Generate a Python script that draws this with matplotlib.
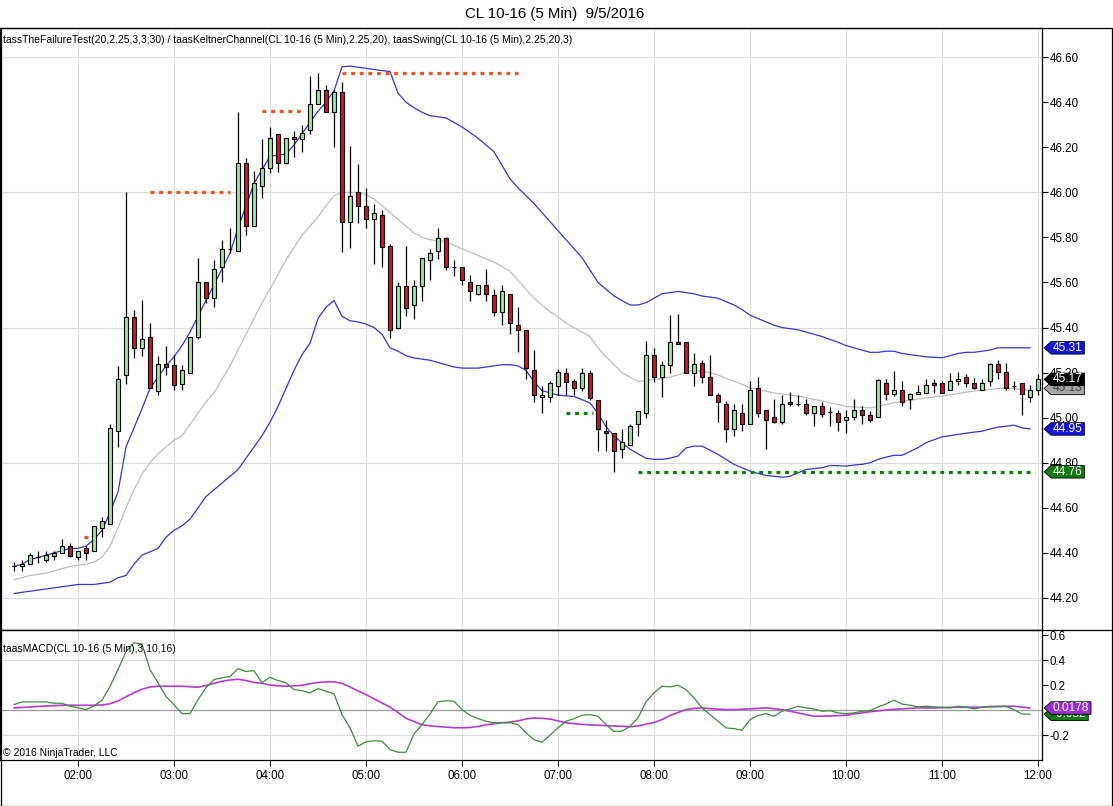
import numpy as np
import matplotlib
matplotlib.use("Agg")
import matplotlib.pyplot as plt
from matplotlib.path import Path
from matplotlib.patches import Rectangle
from matplotlib.lines import Line2D

plt.rcParams['font.family'] = ['Liberation Sans', 'DejaVu Sans']

# 5 min bars, 01:20 .. 12:00
opens = [44.34, 44.34, 44.35, 44.38, 44.37, 44.385, 44.40, 44.43, 44.38, 44.42,
         44.41, 44.51, 44.53, 44.94, 45.19, 45.445, 45.31, 45.36, 45.12, 45.24,
         45.235, 45.15, 45.20, 45.36, 45.60, 45.53, 45.67, 45.75, 45.74, 46.13,
         45.85, 46.03, 46.11, 46.26, 46.13, 46.246, 46.236, 46.276, 46.393, 46.456,
         46.356, 46.445, 45.868, 46.00, 45.94, 45.88, 45.90, 45.76, 45.40, 45.584,
         45.50, 45.584, 45.70, 45.74, 45.797, 45.67, 45.67, 45.60, 45.55, 45.59,
         45.544, 45.47, 45.55, 45.41, 45.39, 45.21, 45.09, 45.09, 45.14, 45.20,
         45.163, 45.13, 45.20, 45.08, 44.943, 44.93, 44.863, 44.88, 44.97, 45.02,
         45.28, 45.18, 45.232, 45.338, 45.338, 45.20, 45.244, 45.18, 45.10, 45.06,
         44.95, 45.02, 44.973, 45.133, 45.032, 45.004, 44.982, 45.07, 45.062, 45.062,
         45.022, 45.05, 45.025, 45.022, 44.99, 45.004, 45.032, 45.014, 45.004, 45.155,
         45.103, 45.122, 45.084, 45.103, 45.11, 45.155, 45.155, 45.125, 45.162, 45.18,
         45.155, 45.122, 45.162, 45.236, 45.204, 45.14, 45.155, 45.092, 45.122]
highs = [44.36, 44.37, 44.40, 44.41, 44.41, 44.41, 44.46, 44.445, 44.41, 44.43,
         44.52, 44.56, 44.97, 45.23, 46.00, 45.48, 45.52, 45.42, 45.275, 45.32,
         45.28, 45.235, 45.36, 45.71, 45.60, 45.70, 45.79, 45.84, 46.356, 46.15,
         46.095, 46.236, 46.29, 46.26, 46.24, 46.27, 46.30, 46.515, 46.528, 46.474,
         46.456, 46.49, 46.205, 46.126, 46.02, 45.95, 45.92, 45.77, 45.60, 45.76,
         45.613, 45.71, 45.75, 45.843, 45.80, 45.70, 45.67, 45.633, 45.59, 45.66,
         45.57, 45.59, 45.55, 45.49, 45.39, 45.30, 45.14, 45.163, 45.216, 45.22,
         45.17, 45.22, 45.21, 45.08, 44.99, 44.93, 44.95, 44.97, 45.03, 45.34,
         45.31, 45.25, 45.454, 45.46, 45.338, 45.285, 45.255, 45.278, 45.11, 45.074,
         45.06, 45.06, 45.165, 45.18, 45.032, 45.085, 45.10, 45.113, 45.10, 45.084,
         45.05, 45.07, 45.047, 45.034, 45.032, 45.084, 45.05, 45.03, 45.173, 45.173,
         45.207, 45.162, 45.11, 45.143, 45.173, 45.173, 45.162, 45.20, 45.204, 45.196,
         45.177, 45.173, 45.244, 45.254, 45.244, 45.162, 45.155, 45.143, 45.195]
lows = [44.32, 44.32, 44.35, 44.355, 44.36, 44.37, 44.40, 44.38, 44.37, 44.37,
        44.41, 44.47, 44.53, 44.87, 45.15, 45.265, 45.275, 45.13, 45.10, 45.19,
        45.125, 45.125, 45.20, 45.35, 45.51, 45.49, 45.60, 45.73, 45.74, 45.81,
        45.85, 45.975, 46.085, 46.09, 46.126, 46.155, 46.18, 46.258, 46.393, 46.356,
        46.20, 45.737, 45.755, 45.865, 45.84, 45.68, 45.67, 45.353, 45.393, 45.45,
        45.44, 45.518, 45.613, 45.703, 45.655, 45.63, 45.59, 45.518, 45.545, 45.518,
        45.45, 45.41, 45.37, 45.29, 45.17, 45.07, 45.02, 45.07, 45.10, 45.10,
        45.10, 45.12, 45.08, 44.85, 44.85, 44.76, 44.82, 44.88, 44.92, 45.00,
        45.16, 45.09, 45.20, 45.328, 45.20, 45.14, 45.155, 45.10, 44.98, 44.89,
        44.918, 44.94, 44.973, 45.004, 44.862, 44.975, 44.973, 45.05, 45.05, 45.01,
        44.963, 45.004, 44.963, 44.94, 44.93, 44.99, 44.973, 44.98, 45.004, 45.08,
        45.096, 45.05, 45.04, 45.103, 45.11, 45.11, 45.11, 45.125, 45.145, 45.136,
        45.128, 45.122, 45.14, 45.173, 45.122, 45.122, 45.01, 45.07, 45.10]
closes = [44.34, 44.35, 44.39, 44.38, 44.39, 44.40, 44.43, 44.385, 44.41, 44.40,
          44.52, 44.54, 44.955, 45.17, 45.445, 45.31, 45.35, 45.13, 45.24, 45.225,
          45.145, 45.21, 45.36, 45.60, 45.53, 45.66, 45.75, 45.75, 46.13, 45.85,
          46.04, 46.11, 46.24, 46.13, 46.24, 46.236, 46.265, 46.393, 46.456, 46.356,
          46.445, 45.868, 45.985, 45.94, 45.88, 45.91, 45.757, 45.39, 45.584, 45.488,
          45.584, 45.71, 45.732, 45.797, 45.67, 45.67, 45.613, 45.56, 45.59, 45.55,
          45.47, 45.56, 45.42, 45.39, 45.22, 45.10, 45.10, 45.153, 45.204, 45.16,
          45.13, 45.20, 45.087, 44.95, 44.933, 44.85, 44.89, 44.965, 45.03, 45.28,
          45.18, 45.232, 45.338, 45.328, 45.20, 45.24, 45.18, 45.10, 45.07, 44.95,
          45.032, 44.973, 45.125, 45.022, 44.99, 44.982, 45.062, 45.062, 45.062, 45.022,
          45.05, 45.015, 45.025, 44.98, 45.004, 45.032, 45.01, 44.99, 45.167, 45.103,
          45.125, 45.07, 45.103, 45.113, 45.143, 45.143, 45.11, 45.162, 45.173, 45.155,
          45.133, 45.155, 45.236, 45.204, 45.13, 45.14, 45.103, 45.125, 45.17]

kc_upper = [44.34, 44.35, 44.37, 44.38, 44.39, 44.40, 44.41, 44.42, 44.42, 44.43,
            44.46, 44.50, 44.58, 44.67, 44.87, 44.955, 45.04, 45.13, 45.18, 45.23,
            45.27, 45.32, 45.38, 45.45, 45.52, 45.59, 45.66, 45.73, 45.84, 45.94,
            46.04, 46.10, 46.16, 46.165, 46.17, 46.21, 46.26, 46.31, 46.36, 46.40,
            46.45, 46.557, 46.56, 46.555, 46.55, 46.545, 46.54, 46.536, 46.44, 46.40,
            46.375, 46.355, 46.34, 46.335, 46.33, 46.31, 46.29, 46.265, 46.24, 46.21,
            46.18, 46.12, 46.06, 46.02, 45.985, 45.95, 45.91, 45.87, 45.83, 45.79,
            45.75, 45.71, 45.655, 45.60, 45.57, 45.54, 45.52, 45.50, 45.50, 45.51,
            45.53, 45.55, 45.555, 45.56, 45.555, 45.55, 45.54, 45.535, 45.53, 45.515,
            45.50, 45.48, 45.455, 45.44, 45.425, 45.41, 45.40, 45.395, 45.39, 45.38,
            45.37, 45.36, 45.347, 45.335, 45.32, 45.31, 45.30, 45.29, 45.29, 45.295,
            45.295, 45.285, 45.28, 45.275, 45.27, 45.268, 45.266, 45.275, 45.285, 45.29,
            45.29, 45.295, 45.30, 45.31, 45.31, 45.31, 45.31, 45.31]
kc_mid = [44.28, 44.29, 44.30, 44.305, 44.31, 44.32, 44.33, 44.34, 44.345, 44.35,
          44.36, 44.38, 44.43, 44.51, 44.60, 44.68, 44.75, 44.80, 44.84, 44.87,
          44.90, 44.92, 44.97, 45.02, 45.07, 45.11, 45.17, 45.23, 45.30, 45.37,
          45.44, 45.51, 45.57, 45.635, 45.70, 45.755, 45.81, 45.85, 45.89, 45.94,
          45.985, 46.00, 46.00, 46.00, 45.99, 45.97, 45.94, 45.91, 45.88, 45.85,
          45.82, 45.80, 45.79, 45.785, 45.78, 45.765, 45.75, 45.735, 45.72, 45.705,
          45.69, 45.67, 45.65, 45.61, 45.57, 45.53, 45.50, 45.47, 45.447, 45.42,
          45.40, 45.38, 45.36, 45.31, 45.27, 45.235, 45.20, 45.18, 45.16, 45.165,
          45.17, 45.175, 45.18, 45.19, 45.205, 45.21, 45.205, 45.20, 45.19, 45.175,
          45.162, 45.148, 45.133, 45.125, 45.117, 45.11, 45.105, 45.10, 45.096, 45.089,
          45.081, 45.074, 45.066, 45.058, 45.05, 45.048, 45.046, 45.044, 45.05, 45.058,
          45.066, 45.072, 45.077, 45.083, 45.088, 45.092, 45.096, 45.102, 45.107, 45.113,
          45.118, 45.122, 45.125, 45.129, 45.133, 45.129, 45.125, 45.122]
kc_lower = [44.22, 44.225, 44.23, 44.235, 44.24, 44.245, 44.25, 44.255, 44.26, 44.26,
            44.26, 44.265, 44.27, 44.29, 44.30, 44.35, 44.39, 44.405, 44.42, 44.47,
            44.50, 44.52, 44.55, 44.60, 44.65, 44.68, 44.71, 44.74, 44.77, 44.82,
            44.87, 44.92, 44.98, 45.05, 45.13, 45.21, 45.28, 45.33, 45.44, 45.49,
            45.52, 45.45, 45.43, 45.425, 45.415, 45.40, 45.37, 45.31, 45.295, 45.275,
            45.265, 45.26, 45.255, 45.245, 45.235, 45.225, 45.22, 45.22, 45.22, 45.225,
            45.23, 45.235, 45.235, 45.23, 45.21, 45.16, 45.12, 45.11, 45.10, 45.097,
            45.094, 45.08, 45.065, 45.02, 44.96, 44.92, 44.888, 44.86, 44.84, 44.82,
            44.815, 44.815, 44.82, 44.83, 44.866, 44.874, 44.874, 44.856, 44.837, 44.815,
            44.793, 44.778, 44.763, 44.753, 44.744, 44.74, 44.736, 44.74, 44.755, 44.77,
            44.774, 44.778, 44.788, 44.787, 44.785, 44.79, 44.793, 44.80, 44.815, 44.825,
            44.833, 44.833, 44.85, 44.867, 44.889, 44.902, 44.915, 44.92, 44.926, 44.931,
            44.936, 44.94, 44.95, 44.958, 44.962, 44.967, 44.955, 44.95]

macd = [0.045, 0.067, 0.067, 0.067, 0.067, 0.056, 0.056, 0.032, 0.02, 0.005,
        0.035, 0.08, 0.19, 0.325, 0.47, 0.54, 0.53, 0.325, 0.22, 0.11,
        0.045, -0.027, -0.027, 0.085, 0.18, 0.245, 0.26, 0.27, 0.333, 0.31,
        0.317, 0.22, 0.264, 0.237, 0.22, 0.165, 0.157, 0.139, 0.173, 0.152,
        0.131, -0.035, -0.14, -0.288, -0.253, -0.243, -0.248, -0.315, -0.336, -0.336,
        -0.19, -0.115, -0.03, 0.067, 0.077, 0.072, 0.005, -0.04, -0.067, -0.088,
        -0.10, -0.10, -0.10, -0.115, -0.18, -0.235, -0.256, -0.20, -0.14, -0.088,
        -0.067, -0.04, -0.035, -0.048, -0.115, -0.168, -0.168, -0.128, -0.061, 0.067,
        0.139, 0.192, 0.187, 0.20, 0.165, 0.099, 0.019, -0.035, -0.088, -0.141,
        -0.147, -0.16, -0.075, -0.043, -0.027, -0.048, -0.008, 0.011, 0.032, 0.019,
        0.011, -0.008, -0.003, -0.021, -0.027, -0.021, -0.008, -0.003, 0.027, 0.05,
        0.08, 0.05, 0.04, 0.027, 0.032, 0.027, 0.024, 0.019, 0.032, 0.027,
        0.011, 0.024, 0.032, 0.032, 0.032, 0.005, -0.03, -0.032]
signal = [0.019, 0.022, 0.026, 0.030, 0.034, 0.037, 0.040, 0.040, 0.040, 0.040,
          0.040, 0.042, 0.052, 0.075, 0.108, 0.140, 0.168, 0.186, 0.192, 0.192,
          0.192, 0.192, 0.188, 0.184, 0.198, 0.215, 0.232, 0.242, 0.248, 0.238,
          0.222, 0.215, 0.202, 0.196, 0.192, 0.195, 0.200, 0.212, 0.222, 0.227,
          0.227, 0.215, 0.186, 0.155, 0.125, 0.092, 0.058, 0.025, -0.018, -0.065,
          -0.090, -0.115, -0.125, -0.130, -0.135, -0.140, -0.140, -0.138, -0.130, -0.117,
          -0.108, -0.100, -0.095, -0.085, -0.070, -0.062, -0.065, -0.070, -0.085, -0.100,
          -0.107, -0.113, -0.117, -0.120, -0.123, -0.126, -0.128, -0.132, -0.125, -0.112,
          -0.098, -0.075, -0.042, -0.018, 0.005, 0.015, 0.019, 0.013, 0.009, 0.006,
          0.005, 0.008, 0.011, 0.015, 0.019, 0.012, 0.005, -0.008, -0.021, -0.035,
          -0.048, -0.048, -0.046, -0.043, -0.040, -0.030, -0.021, -0.012, -0.005, 0.002,
          0.007, 0.011, 0.015, 0.019, 0.019, 0.019, 0.021, 0.023, 0.024, 0.024,
          0.024, 0.025, 0.027, 0.029, 0.031, 0.032, 0.025, 0.0178]

# swing lines: (price, first bar, last bar)
swing_highs = [(46.00, 17, 27), (46.36, 31, 36.4), (46.53, 41, 63)]
swing_lows = [(45.02, 69, 72.4), (44.76, 78, 127.6)]
failure_marks = [(44.47, 9)]

hour_labels = ["02:00", "03:00", "04:00", "05:00", "06:00", "07:00",
               "08:00", "09:00", "10:00", "11:00", "12:00"]
hour_bars = [8, 20, 32, 44, 56, 68, 80, 92, 104, 116, 128]

W, H = 1113, 806
fig = plt.figure(figsize=(W / 100, H / 100), dpi=100)
fig.patch.set_facecolor("white")

ax = fig.add_axes([0, 1 - 630 / H, 1042 / W, 602 / H])
ax2 = fig.add_axes([0, 1 - 760 / H, 1042 / W, 130 / H], sharex=ax)

o = np.array(opens); h = np.array(highs); l = np.array(lows); c = np.array(closes)
x = np.arange(len(c))
xb = np.arange(len(kc_mid))

grid_c = "#DCDCDC"
for b in hour_bars:
    ax.axvline(b, color=grid_c, lw=0.8, zorder=0)
    ax2.axvline(b, color=grid_c, lw=0.8, zorder=0)
for g in [44.2, 44.8, 45.4, 46.0, 46.6]:
    ax.axhline(g, color=grid_c, lw=0.8, zorder=0)
for g in [-0.2, 0.4]:
    ax2.axhline(g, color=grid_c, lw=0.8, zorder=0)
ax2.axhline(0, color="#999999", lw=0.9, zorder=1)

# keltner channel
ax.plot(xb, kc_upper, color="#3535CF", lw=0.9, zorder=2)
ax.plot(xb, kc_lower, color="#3535CF", lw=0.9, zorder=2)
ax.plot(xb, kc_mid, color="#BDBDBD", lw=0.9, zorder=2)

# candles
up = c >= o
colors = np.where(up, "#90EE90", "#DD1111")
ax.vlines(x, l, h, color="black", lw=0.9, zorder=3)
ax.bar(x, np.abs(c - o), width=0.62, bottom=np.minimum(o, c), color=colors,
       edgecolor="black", linewidth=0.8, zorder=4)

dots = (0, (1.2, 1.5))
for y, a, b in swing_highs:
    ax.hlines(y, a, b, colors="#E6561E", lw=2.3, linestyles=[dots], zorder=5)
for y, a, b in swing_lows:
    ax.hlines(y, a, b, colors="#0B7D0B", lw=2.3, linestyles=[dots], zorder=5)
for y, b in failure_marks:
    ax.hlines(y, b - 0.2, b + 0.2, colors="#E6561E", lw=2.3, zorder=5)

ax.set_xlim(-1.75, 128.5)
ax.set_ylim(44.058, 46.729)
ax.yaxis.tick_right()
ax.set_yticks(np.round(np.arange(44.2, 46.61, 0.2), 2))
ax.yaxis.set_major_formatter(plt.FormatStrFormatter("%.2f"))
ax.tick_params(axis="y", direction="out", length=4, labelsize=8.3, pad=1.5)
ax.tick_params(axis="x", bottom=False, labelbottom=False)

# macd panel
ax2.plot(xb, signal, color="#B23CCB", lw=1.2, zorder=3)
ax2.plot(xb, macd, color="#3C8C3C", lw=0.9, zorder=3)
ax2.set_ylim(-0.398, 0.642)
ax2.yaxis.tick_right()
ax2.set_yticks([-0.2, 0.2, 0.4, 0.6])
ax2.yaxis.set_major_formatter(plt.FormatStrFormatter("%.1f"))
ax2.tick_params(axis="y", direction="out", length=4, labelsize=8.3, pad=1.5)
ax2.set_xticks(hour_bars)
ax2.set_xticklabels(hour_labels)
ax2.tick_params(axis="x", direction="out", length=4, labelsize=8.3, pad=3)

for a in (ax, ax2):
    for s in a.spines.values():
        s.set_linewidth(0.9)
        s.set_color("black")
    a.set_facecolor("white")


def flag_box(x0, y0, width, height, mutation_size):
    padx = 0.15 * mutation_size
    cy = y0 + height / 2
    hh = 1.05 * mutation_size
    x0 = x0 - padx
    w = width + 2 * padx
    tip = 0.55 * hh
    return Path([(x0 - tip, cy), (x0, cy - hh / 2), (x0 + w, cy - hh / 2),
                 (x0 + w, cy + hh / 2), (x0, cy + hh / 2), (x0 - tip, cy)],
                closed=True)


def flag(axis, value, text, fc, tc, z):
    axis.annotate(text, xy=(1, value), xycoords=axis.get_yaxis_transform(),
                  xytext=(7.8, 0), textcoords="offset points", ha="left",
                  va="center", fontsize=8.6, color=tc, annotation_clip=False,
                  zorder=z, bbox=dict(boxstyle=flag_box, fc=fc, ec="black", lw=0.6))


flag(ax, 45.31, "45.31", "#1414E0", "white", 10)
flag(ax, 44.95, "44.95", "#1414E0", "white", 10)
flag(ax, 44.76, "44.76", "#107A10", "white", 10)
flag(ax, 45.13, "45.13", "#A8A8A8", "#404040", 10)
flag(ax, 45.17, "45.17", "black", "white", 11)
flag(ax2, -0.032, "-0.032", "#107A10", "white", 10)
flag(ax2, 0.0178, "0.0178", "#9A2FCF", "white", 11)

# texts
fig.text(0.4985, 1 - 14 / H, "CL 10-16 (5 Min)  9/5/2016", ha="center",
         va="center", fontsize=10.8)
fig.text(3 / W, 1 - 40 / H,
         "tassTheFailureTest(20,2.25,3,3,30) / taasKeltnerChannel(CL 10-16 (5 Min),2.25,20), "
         "taasSwing(CL 10-16 (5 Min),2.25,20,3)", ha="left", va="center", fontsize=7.5)
fig.text(3 / W, 1 - 649 / H, "taasMACD(CL 10-16 (5 Min),3,10,16)", ha="left",
         va="center", fontsize=7.5)
fig.text(3 / W, 1 - 753 / H, "\u00a9 2016 NinjaTrader, LLC", ha="left",
         va="center", fontsize=7.5)

# outer frame
fig.add_artist(Rectangle((0.5 / W, 1 - 805.5 / H), 1111.5 / W, 777.5 / H,
                         transform=fig.transFigure, fill=False, ec="black", lw=0.9))
fig.add_artist(Line2D([0, 1], [1 - 630 / H] * 2, transform=fig.transFigure,
                      color="black", lw=0.9))

fig.savefig("out.png", dpi=100)
